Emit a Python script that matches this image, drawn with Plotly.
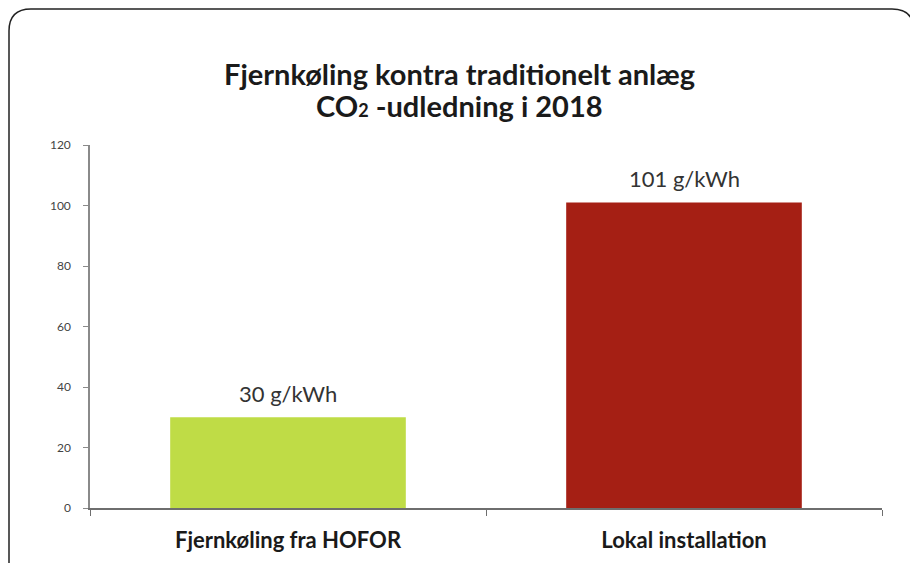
import plotly.graph_objects as go

categories = ["Fjernkøling fra HOFOR", "Lokal installation"]
values = [30, 101]
bar_labels = ["30 g/kWh", "101 g/kWh"]
bar_colors = ["#bfdc46", "#a51f14"]
y_ticks = [0, 20, 40, 60, 80, 100, 120]
title_lines = ["Fjernkøling kontra traditionelt anlæg",
               "CO<span style='font-size:18px'>2</span> -udledning i 2018"]

# the page body adds an 8px margin, so the figure is sized/positioned to compensate
W, H = 910, 555
L, R, T, B = 82, 36, 137, 55
pw, ph = W - L - R, H - T - B

def px(x):
    return (x - L) / pw

def py(y):
    return (H - B - y) / ph

# rounded frame path (paper coords, figure pixels)
x0, x1, y0, y1, r = 1, 906, 1, 600, 22
path = (
    f"M {px(x0)},{py(y1)} L {px(x0)},{py(y0 + r)} "
    f"Q {px(x0)},{py(y0)} {px(x0 + r)},{py(y0)} "
    f"L {px(x1 - r)},{py(y0)} "
    f"Q {px(x1)},{py(y0)} {px(x1)},{py(y0 + r)} "
    f"L {px(x1)},{py(y1)}"
)

FONT = "Lato, Open Sans, sans-serif"

fig = go.Figure(
    go.Bar(
        x=categories,
        y=values,
        marker=dict(color=bar_colors, line=dict(width=0)),
        width=0.595,
        hoverinfo="x+y",
    )
)

annotations = []
for cat, val, lab in zip(categories, values, bar_labels):
    annotations.append(dict(
        x=cat, y=val, xref="x", yref="y", text=lab, showarrow=False,
        yanchor="middle", yshift=24,
        font=dict(family=FONT, size=22, color="#333333"),
    ))
for i, line in enumerate(title_lines):
    annotations.append(dict(
        x=px(451), xref="paper", y=py(65 + 32 * i), yref="paper",
        xanchor="center", yanchor="middle", text=line, showarrow=False,
        font=dict(family=FONT, size=29, color="#1a1a1a", weight="bold"),
    ))

fig.update_layout(
    width=W,
    height=H,
    margin=dict(l=L, r=R, t=T, b=B, autoexpand=False),
    paper_bgcolor="white",
    plot_bgcolor="white",
    showlegend=False,
    annotations=annotations,
    shapes=[
        dict(type="path", xref="paper", yref="paper", path=path,
             line=dict(color="#222222", width=1.5), layer="above"),
    ],
)

fig.update_yaxes(
    range=[0, 120],
    tickvals=y_ticks,
    automargin=False,
    showgrid=False,
    zeroline=False,
    showline=True,
    linecolor="#8a8a8a",
    linewidth=1.5,
    ticks="outside",
    ticklen=5,
    tickcolor="#8a8a8a",
    ticklabelstandoff=10,
    tickfont=dict(family=FONT, size=12, color="#444444"),
)
fig.update_xaxes(
    automargin=False,
    showgrid=False,
    showline=True,
    linecolor="#6e6e6e",
    linewidth=2,
    ticks="outside",
    tickson="boundaries",
    ticklen=6,
    tickcolor="#6e6e6e",
    ticklabelstandoff=12,
    tickfont=dict(family=FONT, size=22, color="#1a1a1a", weight="bold"),
)

fig.write_html("out.html")
